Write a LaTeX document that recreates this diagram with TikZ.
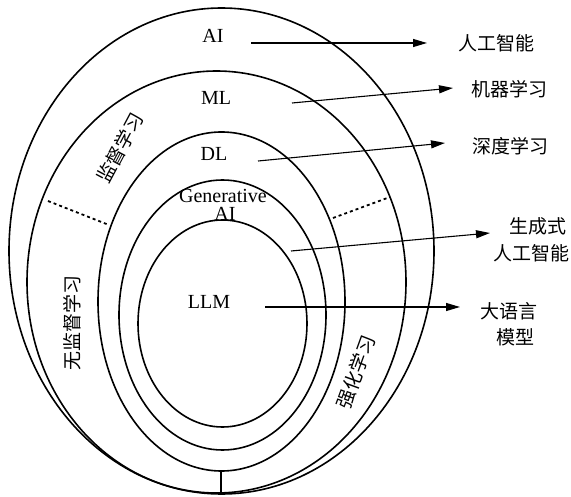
\documentclass[tikz,border=0pt]{standalone}
\usepackage{fontspec}
\setmainfont{Liberation Serif}
\newfontfamily\cjk{Noto Sans CJK SC}
\usetikzlibrary{arrows.meta}
\begin{document}
\begin{tikzpicture}[x=1pt,y=-1pt,
  ring/.style={line width=1.6pt},
  arr/.style={line width=1.1pt,-{Triangle[length=14pt,width=8pt]}},
  dots/.style={line width=1.8pt,dash pattern=on 3pt off 3pt},
  lat/.style={font=\fontsize{20}{21}\selectfont,inner sep=0pt},
  zh/.style={font=\cjk\fontsize{19}{22}\selectfont,inner sep=0pt,align=center}]
\useasboundingbox (0,0) rectangle (571,497);
% ellipses
\draw[ring] (221.5,251) ellipse [x radius=212.5,y radius=243];
\draw[ring] (216.5,282) ellipse [x radius=189.5,y radius=211];
\draw[ring] (221.5,301.5) ellipse [x radius=123.5,y radius=169.5];
\draw[ring] (222.5,315) ellipse [x radius=103.5,y radius=135];
\draw[ring] (222.5,323.5) ellipse [x radius=84.5,y radius=103.5];
% separators
\coordinate (sepB1) at (221,471);
\coordinate (sepB2) at (221,494);
\draw[ring] (sepB1) -- (sepB2);
\coordinate (dl1) at (48,201);
\coordinate (dl2) at (109,225);
\draw[dots] (dl1) -- (dl2);
\coordinate (dr1) at (333,218);
\coordinate (dr2) at (390,197);
\draw[dots] (dr1) -- (dr2);
% inner labels
\node[lat] (ai) at (213,36) {AI};
\node[lat] (ml) at (216,98) {ML};
\node[lat] (dl) at (214,154) {DL};
\node[lat] (gen) at (223,196) {Generative};
\node[lat] (genai) at (225,214) {AI};
\node[lat] (llm) at (209,302) {LLM};
% rotated labels
\node[zh,rotate=62] (sup) at (120,148) {监督学习};
\node[zh,rotate=90] (unsup) at (72,323) {无监督学习};
\node[zh,rotate=70] (rl) at (356,372) {强化学习};
% right labels
\node[zh] (tAI) at (496,43) {人工智能};
\node[zh] (tML) at (509,89) {机器学习};
\node[zh] (tDL) at (510,146) {深度学习};
\node[zh] (tGen1) at (538,226) {生成式};
\node[zh] (tGen2) at (531,253) {人工智能};
\node[zh] (tLLM1) at (509,311) {大语言};
\node[zh] (tLLM2) at (515,337) {模型};
% arrows
\coordinate (aS) at (251,43);  \coordinate (aE) at (427,43);
\coordinate (bS) at (292,103); \coordinate (bE) at (453,88);
\coordinate (cS) at (258,161); \coordinate (cE) at (445,143);
\coordinate (dS) at (291,251); \coordinate (dE) at (490,233);
\coordinate (eS) at (265,307); \coordinate (eE) at (460,307);
\draw[arr] (aS) -- (aE);
\draw[arr] (bS) -- (bE);
\draw[arr] (cS) -- (cE);
\draw[arr] (dS) -- (dE);
\draw[arr] (eS) -- (eE);
\end{tikzpicture}
\end{document}
